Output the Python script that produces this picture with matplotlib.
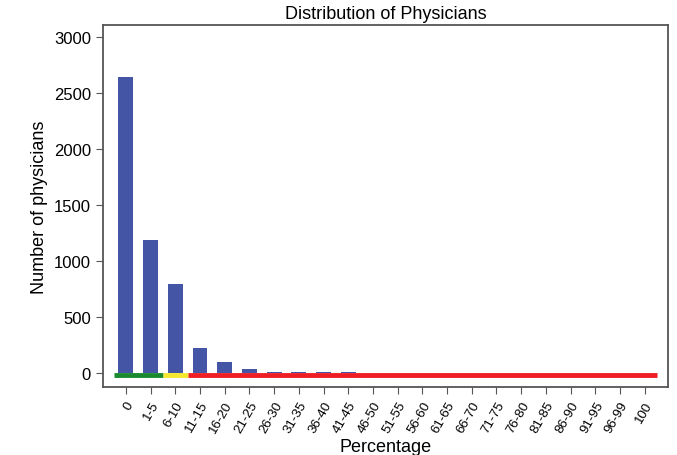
import numpy as np
import matplotlib.pyplot as plt

plt.rcParams['font.family'] = ['Liberation Sans', 'DejaVu Sans']

categories = ['0', '1-5', '6-10', '11-15', '16-20', '21-25', '26-30', '31-35',
              '36-40', '41-45', '46-50', '51-55', '56-60', '61-65', '66-70',
              '71-75', '76-80', '81-85', '86-90', '91-95', '96-99', '100']
counts = [2640, 1185, 795, 225, 95, 35, 12, 12, 12, 12,
          0, 0, 0, 0, 0, 0, 0, 0, 0, 0, 0, 0]
# colour bands along the baseline: (first category, last category, colour)
bands = [(0, 1, '#1a8a2e'), (2, 2, '#f5e830'), (3, 21, '#ee1c24')]

fig = plt.figure(figsize=(6.77, 4.56), dpi=100)
ax = fig.add_axes([0.152, 0.149, 0.835, 0.794])

x = np.arange(len(categories))
ax.bar(x, counts, width=0.6, color='#4455a6', zorder=2)

for start, end, col in bands:
    ax.plot([start - 0.5, end + 0.5], [-15, -15], color=col, lw=3.5,
            solid_capstyle='butt', zorder=3)

ax.set_xlim(-0.93, 21.95)
ax.set_ylim(-125, 3107)
ax.set_yticks([0, 500, 1000, 1500, 2000, 2500, 3000])
ax.set_xticks(x)
ax.set_xticklabels(categories, rotation=60, ha='right', rotation_mode='anchor',
                   fontsize=9.5)
ax.tick_params(axis='y', labelsize=12)
ax.tick_params(axis='both', color='#555555', length=5)
ax.set_title('Distribution of Physicians', fontsize=13, pad=5)
ax.set_xlabel('Percentage', fontsize=13)
ax.xaxis.set_label_coords(0.5, -0.142)
ax.set_ylabel('Number of physicians', fontsize=13)
for s in ax.spines.values():
    s.set_color('#555555')
    s.set_linewidth(1.3)

fig.savefig('out.png')
